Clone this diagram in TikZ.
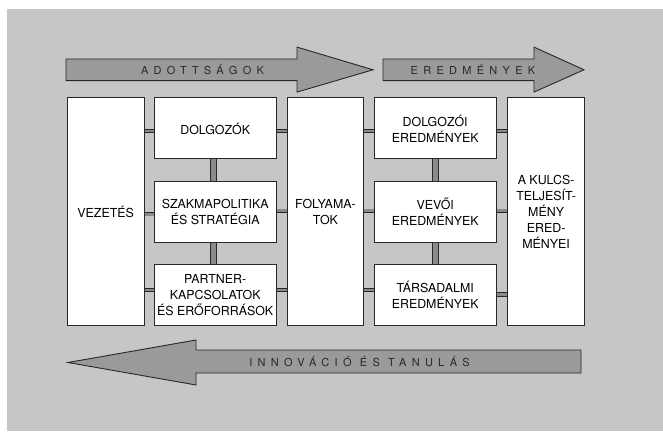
\documentclass[tikz,border=0pt]{standalone}
\usepackage{fontspec}
\setmainfont{TeX Gyre Heros}
\usetikzlibrary{positioning}
\definecolor{Bg}{RGB}{198,198,198}
\definecolor{Shade}{RGB}{154,154,154}
\definecolor{Bar}{RGB}{138,138,138}
\definecolor{Ink}{RGB}{40,40,40}
\begin{document}
\begin{tikzpicture}[x=1pt,y=1pt,node distance=21.4pt,
 b/.style={draw=Ink,line width=.9pt,fill=white,inner sep=0pt,align=center,font=\fontsize{12.4}{16}\selectfont},
 wide/.style={b,minimum width=122.5pt,minimum height=61pt},
 tall/.style={b,minimum width=#1,minimum height=227.5pt,anchor=north west},
 big/.style={draw=Ink,line width=.9pt,fill=Shade},
 lbl/.style={font=\fontsize{11}{11}\selectfont\addfontfeature{LetterSpace=48},text=Ink},
 hl/.style={draw=Ink,line width=.8pt,double=Bar,double distance=2.7pt,transform canvas={yshift=#1}},
 vl/.style={draw=Ink,line width=.8pt,double=Bar,double distance=5pt,transform canvas={xshift=#1}}]
\useasboundingbox (0,0) rectangle (663,431);
\fill[white] (0,0) rectangle (663,431);
\fill[Bg] (7,0) rectangle (663,422);
\draw[big] (66,350.4) -- (297,350.4) -- (297,338.9) -- (373,361.2) -- (297,383.9) -- (297,372) -- (66,372) -- cycle;
\draw[big] (383,350.4) -- (534,350.4) -- (534,338.9) -- (584,361.2) -- (534,383.9) -- (534,372) -- (383,372) -- cycle;
\draw[big] (581,58) -- (196,58) -- (196,46) -- (68,68.5) -- (196,91) -- (196,81) -- (581,81) -- cycle;
\node[lbl] (ad) at (202.5,361.2) {ADOTTSÁGOK};
\node[lbl] (er) at (473,361.2) {EREDMÉNYEK};
\node[lbl] (in) at (359.5,69.5) {INNOVÁCIÓ ÉS TANULÁS};
\node[tall=77pt] (vez) at (66.7,333.5) {VEZETÉS};
\node[wide,anchor=north west] (d1) at (153.5,333.5) {DOLGOZÓK};
\node[wide,below=of d1] (sz) {SZAKMAPOLITIKA\\ÉS STRATÉGIA};
\node[wide,below=of sz] (pk) {PARTNER-\\KAPCSOLATOK\\ÉS ERŐFORRÁSOK};
\node[tall=76pt] (fo) at (287,333.5) {FOLYAMA-\\TOK};
\node[wide,anchor=north west] (e1) at (373.5,333.5) {DOLGOZÓI\\EREDMÉNYEK};
\node[wide,below=of e1] (e2) {VEVŐI\\EREDMÉNYEK};
\node[wide,below=of e2] (e3) {TÁRSADALMI\\EREDMÉNYEK};
\node[tall=76.7pt] (kt) at (507.3,333.5) {A KULCS-\\TELJESÍT-\\MÉNY\\ERED-\\MÉNYEI};
\draw[hl=-2.5pt] (d1.west -| vez.east) -- (d1.west);
\draw[hl=-2.5pt] (d1.east) -- (d1.east -| fo.west);
\draw[hl=-2.5pt] (e1.west -| fo.east) -- (e1.west);
\draw[hl=-2.5pt] (e1.east) -- (e1.east -| kt.west);
\draw[hl=-2.5pt] (sz.west -| vez.east) -- (sz.west);
\draw[hl=1pt] (sz.east) -- (sz.east -| fo.west);
\draw[hl=1pt] (e2.west -| fo.east) -- (e2.west);
\draw[hl=1pt] (e2.east) -- (e2.east -| kt.west);
\draw[hl=5pt] (pk.west -| vez.east) -- (pk.west);
\draw[hl=5pt] (pk.east) -- (pk.east -| fo.west);
\draw[hl=5pt] (e3.west -| fo.east) -- (e3.west);
\draw[hl=.5pt] (e3.east) -- (e3.east -| kt.west);
\draw[vl=-1.5pt] (d1) -- (sz);
\draw[vl=-1.5pt] (sz) -- (pk);
\draw[vl=0pt] (e1) -- (e2);
\draw[vl=0pt] (e2) -- (e3);
\end{tikzpicture}
\end{document}
